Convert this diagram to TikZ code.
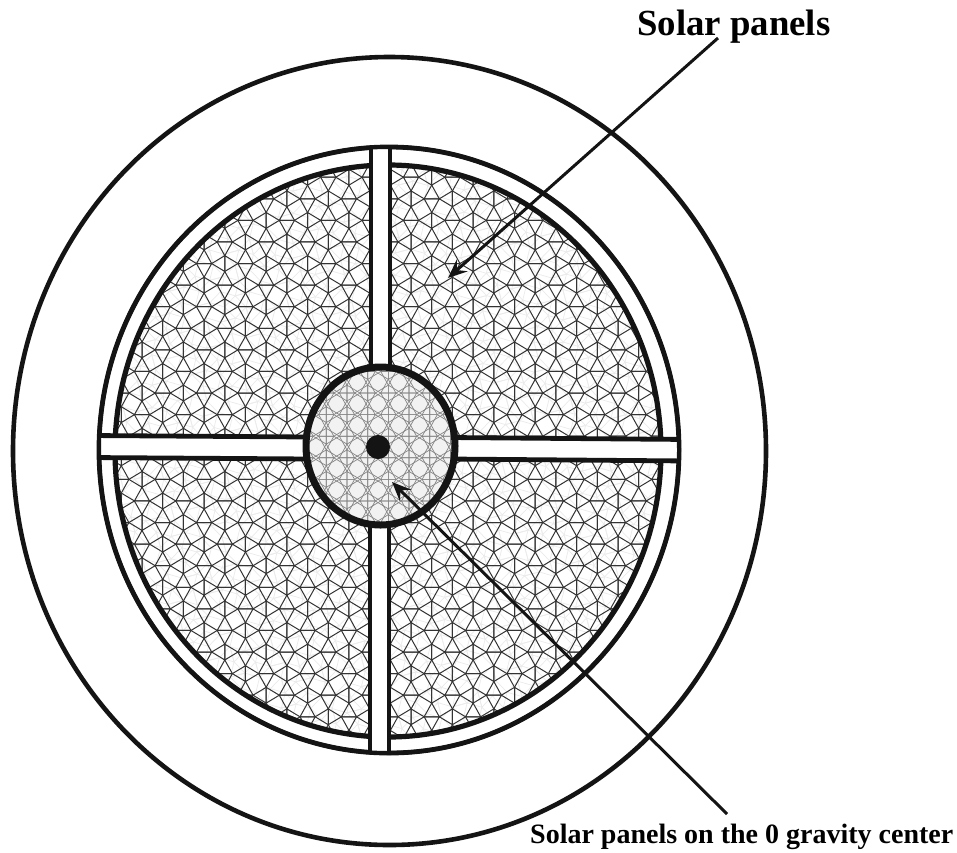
\documentclass[tikz,border=0pt]{standalone}
\usepackage{fontspec}
\setmainfont{Liberation Serif}
\usetikzlibrary{arrows.meta}
\tikzset{
  tileline/.style={line width=1pt,draw=black!80,line join=round},
  coretile/.style={line width=0.7pt,draw=black!48,line join=round},
  faint/.style={line width=0.7pt,draw=black!8},
  heavy/.style={line width=4.8pt,draw=black!92},
  pointer/.style={line width=3pt,draw=black!92,-{Stealth[length=19pt,width=16pt,inset=7pt]}},
  lab/.style={anchor=base west,inner sep=0pt,font=\bfseries}
}
\newcommand{\snubeven}[1]{%
  \draw[#1] (.183,.683)--(.683,-.183)--(-.183,-.683)--(-.683,.183)--cycle
    (.183,.683)--(1.183,.683) (-.683,.183)--(-.683,1.183)
    (-.183,-.683)--(-1.183,-.683) (.683,-.183)--(.683,-1.183);}
\newcommand{\snubodd}[1]{%
  \draw[#1] (.683,.183)--(-.183,.683)--(-.683,-.183)--(.183,-.683)--cycle;}
% #1 style, #2 half-range of cells, #3 options placing the pattern
\newcommand{\snubfield}[3]{%
  \begin{scope}[#3,x=15.15pt,y=-15.8pt]
  \foreach \i in {-#2,...,#2}{\foreach \j in {-#2,...,#2}{%
    \pgfmathtruncatemacro{\parval}{mod(abs(\i+\j),2)}%
    \begin{scope}[shift={(\i*1.366,\j*1.366)}]
    \ifnum\parval=0 \snubeven{#1}\else \snubodd{#1}\fi
    \end{scope}}}
  \end{scope}}
\begin{document}
\begin{tikzpicture}[x=1pt,y=-1pt]
\useasboundingbox (0,0) rectangle (957,852);
\fill[white] (0,0) rectangle (957,852);
% solar panel field
\begin{scope}
  \clip (388,451) ellipse [x radius=273,y radius=286];
  \snubfield{faint}{15}{shift={(380,447)},rotate=15}
  \snubfield{tileline}{15}{shift={(380,447)}}
\end{scope}
% rings
\draw[line width=4.6pt,draw=black!92] (389.5,451) ellipse [x radius=376.5,y radius=394];
\draw[heavy] (389,450) ellipse [x radius=290,y radius=303];
\draw[heavy,line width=5.2pt] (388,451) ellipse [x radius=273,y radius=286];
% cross bars
\begin{scope}
  \clip (389,450) ellipse [x radius=290,y radius=303];
  \fill[white] (371,140) rectangle (390,370);
  \fill[white] (370,520) rectangle (389,760);
  \fill[white] (90,435.5) -- (310,437) -- (310,459) -- (90,457.5) -- cycle;
  \fill[white] (450,437.5) -- (690,439.5) -- (690,461) -- (450,459) -- cycle;
  \draw[heavy] (371,140) -- (371,370) (390,140) -- (390,370);
  \draw[heavy] (370,520) -- (370,760) (389,520) -- (389,760);
  \draw[heavy] (90,435.5) -- (310,437) (90,457.5) -- (310,459);
  \draw[heavy] (450,437.5) -- (690,439.5) (450,459) -- (690,461);
\end{scope}
\draw[line width=4pt,draw=black!92] (389,450) ellipse [x radius=290,y radius=303];
% central disc
\fill[black!5] (380.5,446) ellipse [x radius=74.5,y radius=79];
\begin{scope}
  \clip (380.5,446) ellipse [x radius=74.5,y radius=79];
  \snubfield{coretile}{5}{shift={(378,447)}}
  \snubfield{coretile}{5}{shift={(378,447)},xscale=-1}
\end{scope}
\draw[line width=7pt,draw=black!92] (380.5,446) ellipse [x radius=74.5,y radius=79];
\fill[black!92] (378,447) circle [radius=12];
% labels
\node[lab] (topLabel) at (637,35) {\fontsize{36.8}{40}\selectfont Solar panels};
\node[lab] (bottomLabel) at (530,843) {\fontsize{28}{32}\selectfont Solar panels on the 0 gravity center};
% pointers
\coordinate (topTail) at (718,38);
\coordinate (fieldTip) at (448,278);
\coordinate (bottomTail) at (727,814);
\coordinate (coreTip) at (392,482);
\draw[pointer] (topTail) -- (fieldTip);
\draw[pointer] (bottomTail) -- (coreTip);
\end{tikzpicture}
\end{document}
